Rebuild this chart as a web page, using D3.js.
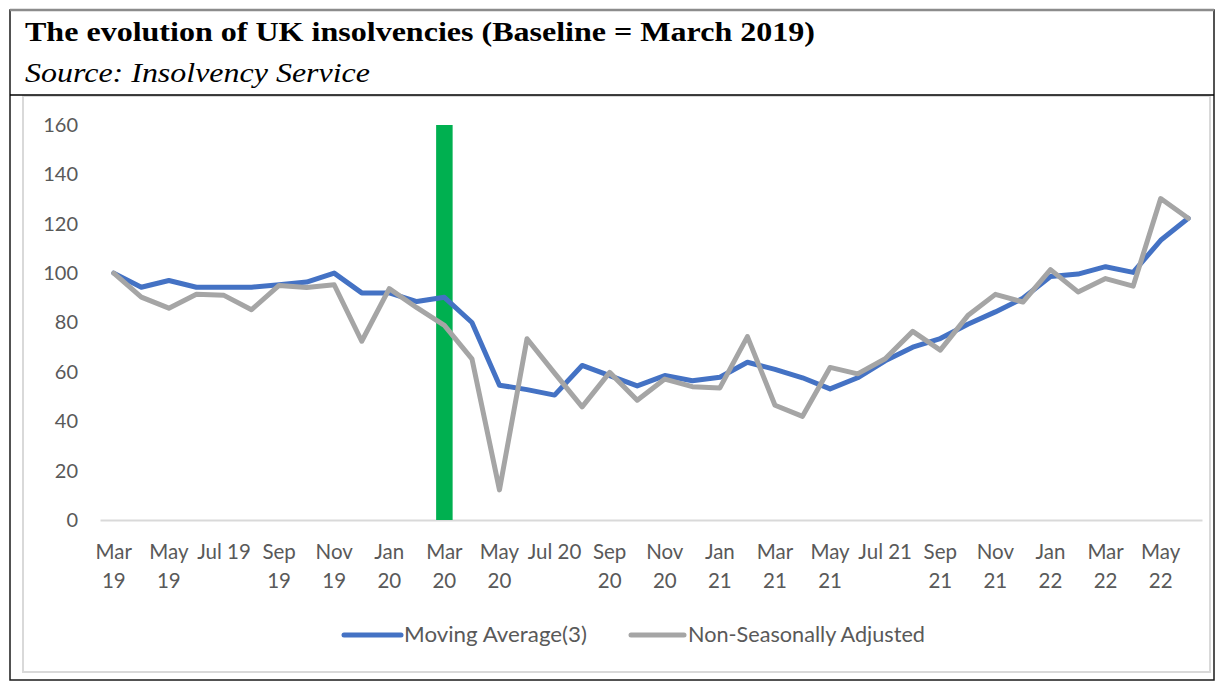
<!DOCTYPE html>
<html>
<head>
<meta charset="utf-8">
<script src="https://cdn.jsdelivr.net/npm/d3@7/dist/d3.min.js"></script>
<style>
  html, body { margin: 0; padding: 0; background: #fff; }
  svg { display: block; }
</style>
</head>
<body>
<svg id="chart" width="1225" height="688"></svg>
<script>
// ---------- DATA ----------
const months = [
  "Mar 19","Apr 19","May 19","Jun 19","Jul 19","Aug 19","Sep 19","Oct 19","Nov 19","Dec 19",
  "Jan 20","Feb 20","Mar 20","Apr 20","May 20","Jun 20","Jul 20","Aug 20","Sep 20","Oct 20",
  "Nov 20","Dec 20","Jan 21","Feb 21","Mar 21","Apr 21","May 21","Jun 21","Jul 21","Aug 21",
  "Sep 21","Oct 21","Nov 21","Dec 21","Jan 22","Feb 22","Mar 22","Apr 22","May 22","Jun 22"
];
const movingAverage = [
  100, 94.3, 97, 94.3, 94.3, 94.3, 95.3, 96.4, 100, 92,
  92, 88.5, 90.2, 80, 54.6, 52.8, 50.6, 62.6, 58.5, 54.3,
  58.5, 56.4, 57.8, 63.9, 61, 57.6, 53.1, 57.6, 64.5, 70,
  73.5, 79.3, 84.3, 89.8, 98.6, 99.6, 102.6, 100.3, 113.3, 122.2
];
const nonSeasonallyAdjusted = [
  100, 90.3, 85.8, 91.4, 91, 85.2, 95, 94.2, 95.3, 72.4,
  93.7, 86, 78.8, 65.3, 12.2, 73.4, 59.5, 45.8, 59.8, 48.5,
  57.1, 54, 53.5, 74.3, 46.5, 42, 61.8, 59.2, 65.3, 76.4,
  68.8, 82.8, 91.4, 88.3, 101.4, 92.4, 97.8, 94.7, 130.2, 122.2
];
const barMonths = ["Mar 20"];
const barValues = [160];
const yTicks = [0, 20, 40, 60, 80, 100, 120, 140, 160];
const tickMonths = ["Mar 19","May 19","Jul 19","Sep 19","Nov 19","Jan 20","Mar 20","May 20","Jul 20",
  "Sep 20","Nov 20","Jan 21","Mar 21","May 21","Jul 21","Sep 21","Nov 21","Jan 22","Mar 22","May 22"];
const tickLabels = [["Mar","19"],["May","19"],["Jul 19"],["Sep","19"],["Nov","19"],["Jan","20"],["Mar","20"],
  ["May","20"],["Jul 20"],["Sep","20"],["Nov","20"],["Jan","21"],["Mar","21"],["May","21"],["Jul 21"],
  ["Sep","21"],["Nov","21"],["Jan","22"],["Mar","22"],["May","22"]];
const seriesNames = ["Moving Average(3)", "Non-Seasonally Adjusted"];
const titleText = "The evolution of UK insolvencies (Baseline = March 2019)";
const subtitleText = "Source: Insolvency Service";

// ---------- STYLE ----------
const blue = "#4472C4", gray = "#A5A5A5", green = "#00B050", textGray = "#595959";
const font = "Lato, 'Open Sans', sans-serif";

const svg = d3.select("#chart");

// Frames
svg.append("rect").attr("x", 23).attr("y", 96).attr("width", 1187).attr("height", 576)
  .attr("fill", "#fff").attr("stroke", "#D9D9D9").attr("stroke-width", 2);
svg.append("rect").attr("x", 10).attr("y", 10).attr("width", 1204).attr("height", 670)
  .attr("fill", "none").attr("stroke", "#1a1a1a").attr("stroke-width", 1.5);
svg.append("line").attr("x1", 10).attr("x2", 1214).attr("y1", 10).attr("y2", 10)
  .attr("stroke", "#8c8c8c").attr("stroke-width", 2.5);
svg.append("line").attr("x1", 10).attr("x2", 1214).attr("y1", 95).attr("y2", 95)
  .attr("stroke", "#000").attr("stroke-width", 1.5);

// Titles
svg.append("text").attr("x", 25).attr("y", 41).text(titleText)
  .attr("font-family", "'Liberation Serif', 'Times New Roman', serif")
  .attr("font-weight", "bold").attr("font-size", 28).attr("fill", "#000")
  .attr("textLength", 790).attr("lengthAdjust", "spacingAndGlyphs");
svg.append("text").attr("x", 25).attr("y", 82).text(subtitleText)
  .attr("font-family", "'Liberation Serif', 'Times New Roman', serif")
  .attr("font-style", "italic").attr("font-size", 27).attr("fill", "#000")
  .attr("textLength", 345).attr("lengthAdjust", "spacingAndGlyphs");

// Scales
const x = d3.scaleBand().domain(months).range([100, 1202]).paddingInner(0).paddingOuter(0);
const bw = x.bandwidth();
const cx = m => x(m) + bw / 2;
const y = d3.scaleLinear().domain([0, 160]).range([520, 125]);

// Y axis (labels only)
const yAxis = svg.append("g").attr("transform", "translate(100,0)")
  .call(d3.axisLeft(y).tickValues(yTicks).tickSize(0).tickPadding(22));
yAxis.select(".domain").remove();
yAxis.selectAll("text").attr("font-family", font).attr("font-size", 20).attr("fill", textGray);

// X axis line
const xAxis = svg.append("g").attr("transform", "translate(0,520)")
  .call(d3.axisBottom(x).tickValues([]).tickSize(0).tickSizeOuter(0));
xAxis.select(".domain").attr("stroke", "#D9D9D9").attr("stroke-width", 2);

// X tick labels
const tl = svg.append("g").selectAll("text").data(tickMonths).join("text")
  .attr("x", d => cx(d)).attr("y", 559)
  .attr("text-anchor", "middle")
  .attr("font-family", font).attr("font-size", 20.5).attr("fill", textGray);
tl.each(function(d, i) {
  const t = d3.select(this);
  tickLabels[i].forEach((s, j) => {
    t.append("tspan").attr("x", cx(d)).attr("dy", j === 0 ? 0 : 28.5).text(s);
  });
});

// Bar
const barW = bw / 1.67;
svg.append("g").selectAll("rect").data(barMonths).join("rect")
  .attr("x", d => cx(d) - barW / 2)
  .attr("width", barW)
  .attr("y", (d, i) => y(barValues[i]))
  .attr("height", (d, i) => y(0) - y(barValues[i]))
  .attr("fill", green);

// Lines
const line = d3.line().x((d, i) => cx(months[i])).y(d => y(d));
svg.append("path").datum(movingAverage).attr("d", line)
  .attr("fill", "none").attr("stroke", blue).attr("stroke-width", 5)
  .attr("stroke-linejoin", "round").attr("stroke-linecap", "round");
svg.append("path").datum(nonSeasonallyAdjusted).attr("d", line)
  .attr("fill", "none").attr("stroke", gray).attr("stroke-width", 5)
  .attr("stroke-linejoin", "round").attr("stroke-linecap", "round");

// Legend
const legendItems = [
  { name: seriesNames[0], color: blue, x1: 344, x2: 401, tx: 404, w: 183 },
  { name: seriesNames[1], color: gray, x1: 631, x2: 684, tx: 688, w: 237 }
];
const lg = svg.append("g");
lg.selectAll("line").data(legendItems).join("line")
  .attr("x1", d => d.x1).attr("x2", d => d.x2).attr("y1", 635).attr("y2", 635)
  .attr("stroke", d => d.color).attr("stroke-width", 5).attr("stroke-linecap", "round");
lg.selectAll("text").data(legendItems).join("text")
  .attr("x", d => d.tx).attr("y", 642).text(d => d.name)
  .attr("font-family", font).attr("font-size", 21.5).attr("fill", textGray)
  .attr("textLength", d => d.w).attr("lengthAdjust", "spacingAndGlyphs");
</script>
</body>
</html>
